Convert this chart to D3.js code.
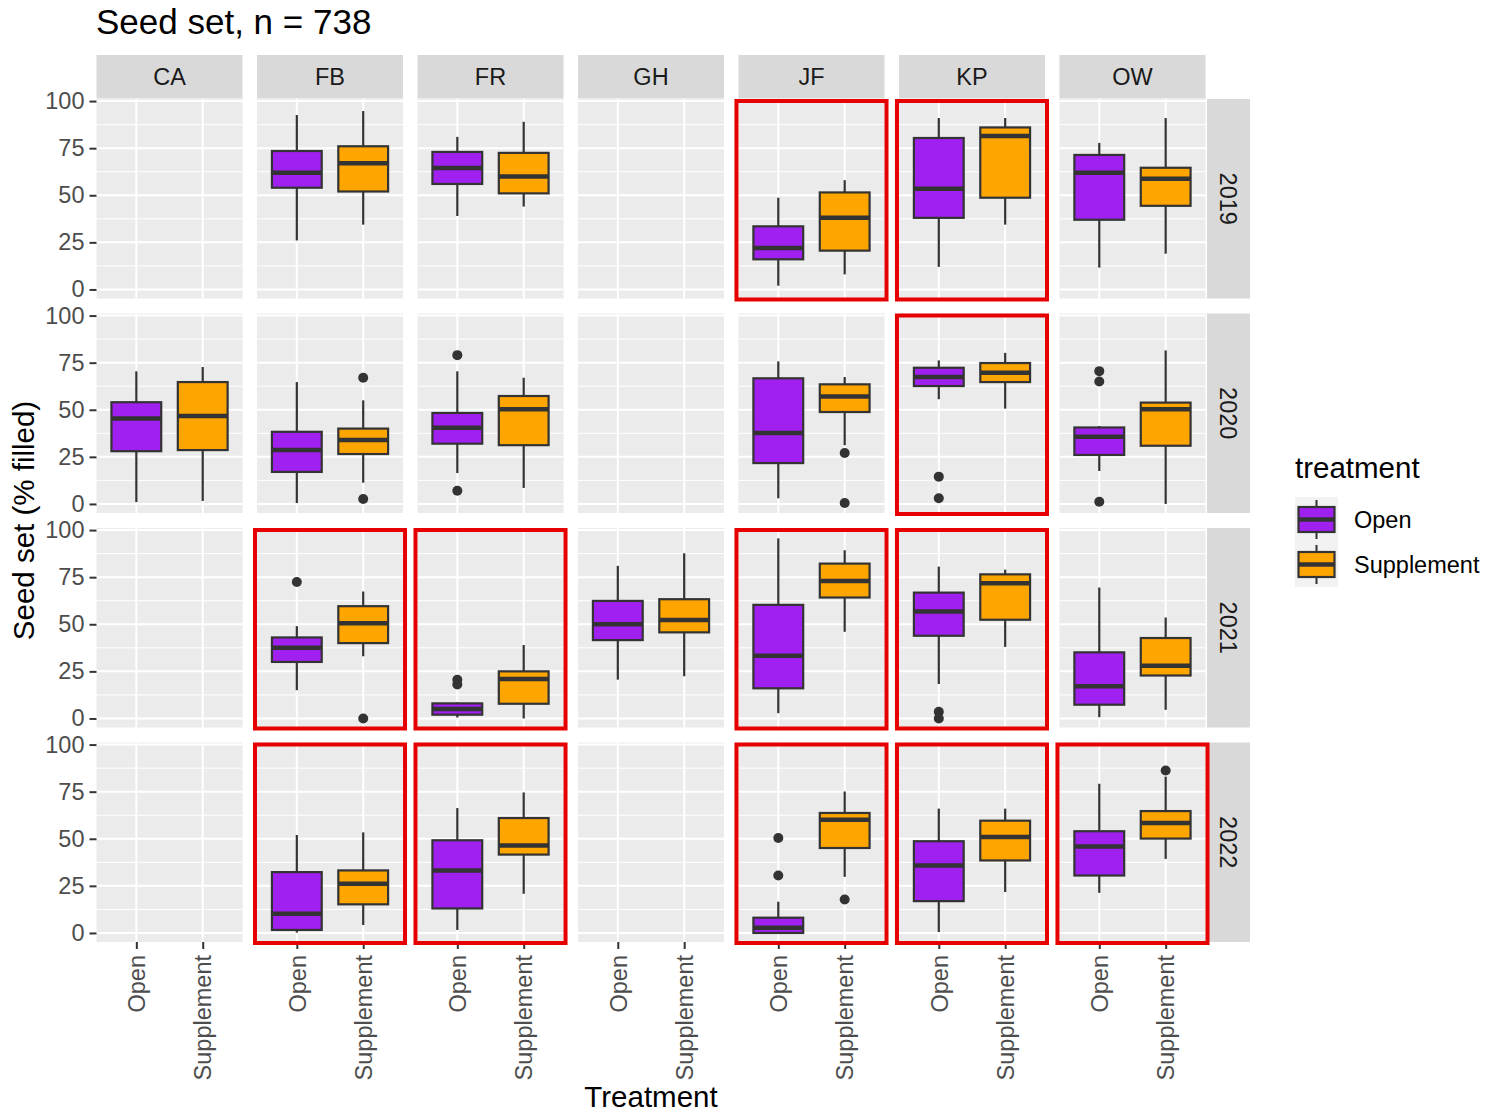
<!DOCTYPE html>
<html>
<head>
<meta charset="utf-8">
<script src="https://cdn.jsdelivr.net/npm/d3@7"></script>
<style>
  body { margin: 0; background: #fff; }
  text { font-family: "Liberation Sans", Arial, sans-serif; }
</style>
</head>
<body>
<svg id="chart" width="1494" height="1114"></svg>
<script>
var sites = ["CA", "FB", "FR", "GH", "JF", "KP", "OW"];
var years = ["2019", "2020", "2021", "2022"];
var treatments = ["Open", "Supplement"];
var yTicks = [0, 25, 50, 75, 100];

// [site, treatment, lower whisker, q1, median, q3, upper whisker]
var boxes2019 = [
	["FB", "Open", 26, 54, 62, 73.5, 92.6],
	["FB", "Supplement", 34.4, 52, 67, 76, 94.7],
	["FR", "Open", 39, 56, 64.5, 73, 81],
	["FR", "Supplement", 44, 51, 60, 72.5, 89],
	["JF", "Open", 2, 16, 22, 33.5, 48.7],
	["JF", "Supplement", 8, 20.6, 38, 51.5, 58],
	["KP", "Open", 12, 38, 53.4, 80.4, 91],
	["KP", "Supplement", 34.4, 48.7, 81.5, 86, 91],
	["OW", "Open", 11.6, 37, 62, 71.4, 77.8],
	["OW", "Supplement", 19, 44.4, 58.7, 64.6, 91]
];
var boxes2020 = [
	["CA", "Open", 1, 28, 45.4, 54, 70.4],
	["CA", "Supplement", 1.6, 28.6, 46.7, 64.7, 72.7],
	["FB", "Open", 0.5, 17, 28.6, 38.3, 64.7],
	["FB", "Supplement", 11.3, 26.5, 33.9, 40, 55],
	["FR", "Open", 16.4, 32, 40.4, 48.3, 70.4],
	["FR", "Supplement", 8.5, 31.2, 50.3, 57.3, 67],
	["JF", "Open", 3, 21.7, 37.7, 66.7, 75.7],
	["JF", "Supplement", 31.2, 48.8, 57, 63.5, 67.4],
	["KP", "Open", 55.6, 62.6, 67.4, 72.3, 76.2],
	["KP", "Supplement", 50.6, 64.7, 69.7, 74.8, 80.2],
	["OW", "Open", 17.5, 26, 35.7, 40.6, 41.4],
	["OW", "Supplement", 0, 30.9, 50.3, 53.8, 81.5]
];
var boxes2021 = [
	["FB", "Open", 15, 30, 37.6, 43, 49],
	["FB", "Supplement", 33, 40, 50.5, 59.6, 67.4],
	["FR", "Open", 0.5, 2, 5, 8, 8.5],
	["FR", "Supplement", 0, 7.8, 21, 25, 39],
	["GH", "Open", 20.6, 41.6, 50, 62.4, 81],
	["GH", "Supplement", 22.4, 45.7, 52.2, 63.3, 87.7],
	["JF", "Open", 2.8, 16, 33.3, 60.3, 95.6],
	["JF", "Supplement", 46, 64.2, 73, 82.2, 89.3],
	["KP", "Open", 18.3, 43.9, 56.8, 66.8, 80.6],
	["KP", "Supplement", 38, 52.4, 71.8, 76.5, 79],
	["OW", "Open", 0.7, 7.3, 17.1, 35.1, 69.5],
	["OW", "Supplement", 4.6, 22.8, 28, 42.7, 53.6]
];
var boxes2022 = [
	["FB", "Open", 0.2, 1.6, 10.2, 32.3, 52],
	["FB", "Supplement", 4.2, 15.2, 26.1, 33.2, 53.4],
	["FR", "Open", 1.6, 13, 33.1, 49.2, 66.3],
	["FR", "Supplement", 20.8, 41.6, 46.4, 61, 74.6],
	["JF", "Open", 0, 0, 2.8, 8.1, 16.6],
	["JF", "Supplement", 29.8, 45.1, 60.1, 63.7, 75.1],
	["KP", "Open", 0.5, 16.9, 35.8, 48.7, 66],
	["KP", "Supplement", 21.7, 38.5, 51, 59.6, 66],
	["OW", "Open", 21.3, 30.5, 45.9, 54, 79.2],
	["OW", "Supplement", 39.3, 50.1, 58.4, 64.7, 83]
];

// [site, treatment, value]
var outliers2019 = [];
var outliers2020 = [
	["FB", "Supplement", 67], ["FB", "Supplement", 2.6],
	["FR", "Open", 79], ["FR", "Open", 7],
	["JF", "Supplement", 27], ["JF", "Supplement", 0.5],
	["KP", "Open", 14.5], ["KP", "Open", 3],
	["OW", "Open", 70.5], ["OW", "Open", 65], ["OW", "Open", 1.2]
];
var outliers2021 = [
	["FB", "Open", 72.4], ["FB", "Supplement", 0],
	["FR", "Open", 20.5], ["FR", "Open", 18],
	["KP", "Open", 3.5], ["KP", "Open", 0]
];
var outliers2022 = [
	["JF", "Open", 50.4], ["JF", "Open", 30.5],
	["JF", "Supplement", 17.8],
	["OW", "Supplement", 86.2]
];

// panels framed in red: [site, year]
var highlighted = [
	["JF", "2019"], ["KP", "2019"],
	["KP", "2020"],
	["FB", "2021"], ["FR", "2021"], ["JF", "2021"], ["KP", "2021"],
	["FB", "2022"], ["FR", "2022"], ["JF", "2022"], ["KP", "2022"], ["OW", "2022"]
];

var boxesByYear = { "2019": boxes2019, "2020": boxes2020, "2021": boxes2021, "2022": boxes2022 };
var outliersByYear = { "2019": outliers2019, "2020": outliers2020, "2021": outliers2021, "2022": outliers2022 };

var fills = d3.scaleOrdinal().domain(treatments).range(["#A020F0", "#FFA500"]);
var ink = "#333333";
var tickText = "#4D4D4D";
var smallFont = "23.5px", titleFont = "29.5px";

var svg = d3.select("#chart");

var col = d3.scaleBand().domain(sites).range([96.5, 1205.5]).paddingInner(0.09);
var row = d3.scaleBand().domain(years).range([99, 942]).paddingInner(0.07);
var pw = col.bandwidth(), ph = row.bandwidth();

var x = d3.scalePoint().domain(treatments).range([0, pw]).padding(0.6);
var y = d3.scaleLinear().domain([-4.8, 101.1]).range([ph, 0]);
var boxW = x.step() * 0.75;

// title
svg.append("text")
	.attr("x", 96).attr("y", 34)
	.attr("font-size", "35px").attr("fill", "#000")
	.text("Seed set, n = 738");

years.forEach(function(year) {
	sites.forEach(function(site) {
		var g = svg.append("g")
			.attr("transform", "translate(" + col(site) + "," + row(year) + ")");

		g.append("rect")
			.attr("width", pw).attr("height", ph)
			.attr("fill", "#EBEBEB");

		g.selectAll(".minor")
			.data([12.5, 37.5, 62.5, 87.5])
			.enter().append("line")
			.attr("x1", 0).attr("x2", pw)
			.attr("y1", function(d) { return y(d); })
			.attr("y2", function(d) { return y(d); })
			.attr("stroke", "#fff").attr("stroke-width", 1);

		g.selectAll(".major")
			.data(yTicks)
			.enter().append("line")
			.attr("x1", 0).attr("x2", pw)
			.attr("y1", function(d) { return y(d); })
			.attr("y2", function(d) { return y(d); })
			.attr("stroke", "#fff").attr("stroke-width", 2);

		g.selectAll(".vgrid")
			.data(treatments)
			.enter().append("line")
			.attr("x1", function(d) { return x(d); })
			.attr("x2", function(d) { return x(d); })
			.attr("y1", 0).attr("y2", ph)
			.attr("stroke", "#fff").attr("stroke-width", 2);

		var bx = boxesByYear[year].filter(function(b) { return b[0] == site; });
		var bg = g.selectAll(".box").data(bx).enter().append("g");

		bg.append("line")
			.attr("x1", function(d) { return x(d[1]); })
			.attr("x2", function(d) { return x(d[1]); })
			.attr("y1", function(d) { return y(d[6]); })
			.attr("y2", function(d) { return y(d[2]); })
			.attr("stroke", ink).attr("stroke-width", 2.2);

		bg.append("rect")
			.attr("x", function(d) { return x(d[1]) - boxW / 2; })
			.attr("y", function(d) { return y(d[5]); })
			.attr("width", boxW)
			.attr("height", function(d) { return y(d[3]) - y(d[5]); })
			.attr("fill", function(d) { return fills(d[1]); })
			.attr("stroke", ink).attr("stroke-width", 2.2);

		bg.append("line")
			.attr("x1", function(d) { return x(d[1]) - boxW / 2; })
			.attr("x2", function(d) { return x(d[1]) + boxW / 2; })
			.attr("y1", function(d) { return y(d[4]); })
			.attr("y2", function(d) { return y(d[4]); })
			.attr("stroke", ink).attr("stroke-width", 4.5);

		var pts = outliersByYear[year].filter(function(o) { return o[0] == site; });
		g.selectAll(".pt").data(pts).enter().append("circle")
			.attr("cx", function(d) { return x(d[1]); })
			.attr("cy", function(d) { return y(d[2]); })
			.attr("r", 5)
			.attr("fill", ink);
	});

	// right strip
	var rs = svg.append("g")
		.attr("transform", "translate(1207," + row(year) + ")");
	rs.append("rect").attr("width", 43).attr("height", ph).attr("fill", "#D9D9D9");
	rs.append("text")
		.attr("transform", "translate(21.5," + (ph / 2) + ") rotate(90)")
		.attr("text-anchor", "middle").attr("dy", "0.35em")
		.attr("font-size", smallFont).attr("fill", "#1A1A1A")
		.text(year);

	// y axis
	var ya = svg.append("g")
		.attr("transform", "translate(" + col(sites[0]) + "," + row(year) + ")")
		.call(d3.axisLeft(y).tickValues(yTicks).tickSize(7).tickPadding(5));
	ya.select(".domain").remove();
	ya.selectAll("line").attr("stroke", ink).attr("stroke-width", 2);
	ya.selectAll("text").attr("font-size", smallFont).attr("fill", tickText)
		.attr("font-family", "Liberation Sans, Arial, sans-serif");
});

// top strips and x axes
sites.forEach(function(site) {
	var ts = svg.append("g").attr("transform", "translate(" + col(site) + ",55)");
	ts.append("rect").attr("width", pw).attr("height", 43.5).attr("fill", "#D9D9D9");
	ts.append("text")
		.attr("x", pw / 2).attr("y", 22).attr("dy", "0.35em")
		.attr("text-anchor", "middle")
		.attr("font-size", smallFont).attr("fill", "#1A1A1A")
		.text(site);

	var xa = svg.append("g")
		.attr("transform", "translate(" + col(site) + "," + (row(years[3]) + ph) + ")")
		.call(d3.axisBottom(x).tickSize(7).tickPadding(6));
	xa.select(".domain").remove();
	xa.selectAll("line").attr("stroke", ink).attr("stroke-width", 2);
	xa.selectAll("text")
		.attr("font-size", smallFont).attr("fill", tickText)
		.attr("font-family", "Liberation Sans, Arial, sans-serif")
		.attr("text-anchor", "end")
		.attr("transform", "rotate(-90)")
		.attr("x", -13).attr("y", 0).attr("dy", "0.35em");
});

// red frames
svg.selectAll(".frame")
	.data(highlighted)
	.enter().append("rect")
	.attr("x", function(d) { return col(d[0]) - 2; })
	.attr("y", function(d) { return row(d[1]) + 2; })
	.attr("width", pw + 4)
	.attr("height", ph - 1)
	.attr("fill", "none")
	.attr("stroke", "#E60000").attr("stroke-width", 4);

// axis titles
svg.append("text")
	.attr("x", (col.range()[0] + col.range()[1]) / 2).attr("y", 1107)
	.attr("text-anchor", "middle").attr("font-size", titleFont).attr("fill", "#000")
	.text("Treatment");
svg.append("text")
	.attr("transform", "translate(34," + ((row.range()[0] + row.range()[1]) / 2) + ") rotate(-90)")
	.attr("text-anchor", "middle").attr("font-size", titleFont).attr("fill", "#000")
	.text("Seed set (% filled)");

// legend
var lg = svg.append("g").attr("transform", "translate(1295,0)");
lg.append("text")
	.attr("x", 0).attr("y", 478)
	.attr("font-size", titleFont).attr("fill", "#000")
	.text("treatment");
var keys = lg.selectAll(".key").data(treatments).enter().append("g")
	.attr("transform", function(d, i) { return "translate(0," + (497 + i * 45) + ")"; });
keys.append("rect").attr("width", 43).attr("height", 45).attr("fill", "#F2F2F2");
keys.append("line")
	.attr("x1", 21.5).attr("x2", 21.5).attr("y1", 3).attr("y2", 42)
	.attr("stroke", ink).attr("stroke-width", 2);
keys.append("rect")
	.attr("x", 3.5).attr("y", 10).attr("width", 36).attr("height", 25)
	.attr("fill", function(d) { return fills(d); })
	.attr("stroke", ink).attr("stroke-width", 2.2);
keys.append("line")
	.attr("x1", 3.5).attr("x2", 39.5).attr("y1", 22.5).attr("y2", 22.5)
	.attr("stroke", ink).attr("stroke-width", 4.5);
keys.append("text")
	.attr("x", 59).attr("y", 22.5).attr("dy", "0.35em")
	.attr("font-size", smallFont).attr("fill", "#000")
	.text(function(d) { return d; });
</script>
</body>
</html>
